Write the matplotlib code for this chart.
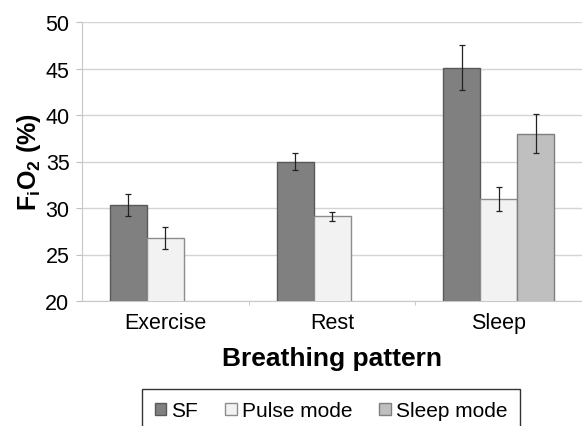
import numpy as np
import matplotlib
matplotlib.use("Agg")
import matplotlib.pyplot as plt
from matplotlib.ticker import FixedLocator

plt.rcParams['font.family'] = ['Liberation Sans', 'DejaVu Sans']
plt.rcParams['mathtext.fontset'] = 'custom'
plt.rcParams['mathtext.bf'] = 'Liberation Sans:bold'
plt.rcParams['mathtext.rm'] = 'Liberation Sans'

# ─── Dados ────────────────────────────────────────────────────────────────────
patterns = ['Exercise', 'Rest', 'Sleep']
series = ['SF', 'Pulse mode', 'Sleep mode']

sf_vals = [30.3, 35.0, 45.1]
sf_err = [1.2, 0.9, 2.4]
pulse_vals = [26.8, 29.1, 31.0]
pulse_err = [1.2, 0.5, 1.3]
sleep_vals = [np.nan, np.nan, 38.0]
sleep_err = [np.nan, np.nan, 2.1]

values = [sf_vals, pulse_vals, sleep_vals]
errors = [sf_err, pulse_err, sleep_err]
faces = ['#808080', '#f2f2f2', '#bfbfbf']
edges = ['#595959', '#8c8c8c', '#7f7f7f']

# ─── Figura ───────────────────────────────────────────────────────────────────
fig = plt.figure(figsize=(5.82, 4.27), dpi=100)
ax = fig.add_axes([82 / 582, 1 - 302 / 427, 500 / 582, 279 / 427])

x = np.arange(len(patterns))
w = 0.222
for i, (vals, errs) in enumerate(zip(values, errors)):
    ax.bar(x + (i - 1) * w, vals, w, bottom=0, color=faces[i], edgecolor=edges[i],
           linewidth=1.0, label=series[i], zorder=3)
    ax.errorbar(x + (i - 1) * w, vals, yerr=errs, fmt='none', ecolor='#222222',
                elinewidth=0.9, capsize=2.5, capthick=0.9, zorder=4)

ax.set_xlim(-0.5, 2.5)
ax.set_ylim(20, 50)
ax.set_yticks(np.arange(20, 51, 5))
ax.set_xticks(x)
ax.set_xticklabels(patterns, fontsize=15.5)
ax.xaxis.set_minor_locator(FixedLocator([0.5, 1.5]))
ax.tick_params(axis='x', which='major', length=0, pad=8)
ax.tick_params(axis='x', which='minor', length=3, color='#bfbfbf', direction='out')
ax.tick_params(axis='y', labelsize=15.5, length=4, color='#bfbfbf', pad=5)

ax.grid(axis='y', color='#d4d4d4', linewidth=1.0, zorder=0)
for s in ['top', 'right']:
    ax.spines[s].set_visible(False)
ax.spines['left'].set_color('#c8c8c8')
ax.spines['bottom'].set_color('#c8c8c8')

ax.set_xlabel('Breathing pattern', fontsize=19, fontweight='bold', labelpad=9)
ax.set_ylabel(r'F$_\mathbf{i}$O$_\mathbf{2}$ (%)', fontsize=18, fontweight='bold', labelpad=2)

leg = fig.legend(loc='upper center', bbox_to_anchor=(331 / 582, 1 - 390 / 427),
                 ncol=3, fontsize=15, frameon=True, fancybox=False,
                 handlelength=0.55, handleheight=0.55, handletextpad=0.25,
                 columnspacing=1.3, borderpad=0.6, borderaxespad=0)
leg.get_frame().set_edgecolor('black')
leg.get_frame().set_linewidth(1.0)

plt.savefig('out.png', dpi=100)
